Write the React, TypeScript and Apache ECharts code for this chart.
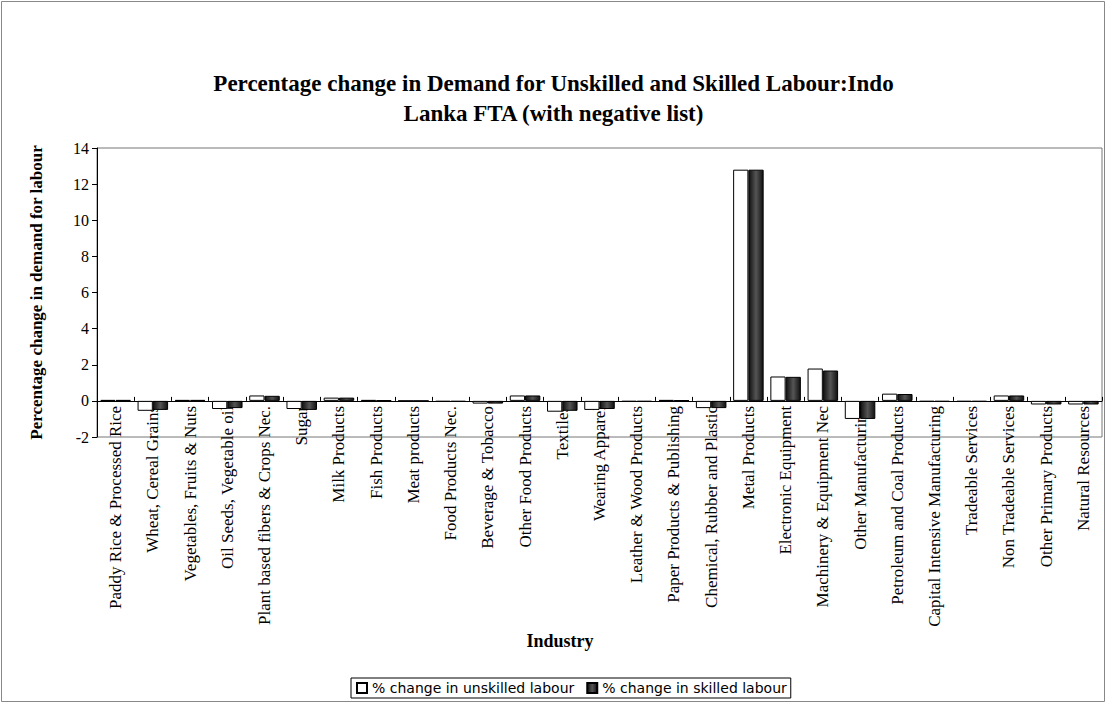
import React, { useEffect, useRef } from "react";
import * as echarts from "echarts";

const titleLines = [
  "Percentage change in Demand for Unskilled and Skilled Labour:Indo",
  "Lanka FTA (with negative list)",
];
const yAxisTitle = "Percentage change in demand for labour";
const xAxisTitle = "Industry";
const seriesNames = ["% change in unskilled labour", "% change in skilled labour"];

const categories = [
  "Paddy Rice & Processed Rice",
  "Wheat, Cereal Grains",
  "Vegetables, Fruits & Nuts",
  "Oil Seeds, Vegetable oil",
  "Plant based fibers & Crops Nec.",
  "Sugar",
  "Milk Products",
  "Fish Products",
  "Meat products",
  "Food Products Nec.",
  "Beverage & Tobacco",
  "Other Food Products",
  "Textiles",
  "Wearing Apparel",
  "Leather & Wood Products",
  "Paper Products & Publishing",
  "Chemical, Rubber and Plastic",
  "Metal Products",
  "Electronic Equipment",
  "Machinery & Equipment Nec",
  "Other Manufacturing",
  "Petroleum and Coal Products",
  "Capital Intensive Manufacturing",
  "Tradeable Services",
  "Non Tradeable Services",
  "Other Primary Products",
  "Natural Resources",
];

const unskilled = [
  0.05, -0.55, 0.05, -0.45, 0.3, -0.45, 0.18, 0.05, 0.0, -0.05, -0.15, 0.3, -0.6,
  -0.5, -0.05, 0.05, -0.4, 12.8, 1.35, 1.79, -1.0, 0.4, -0.05, -0.05, 0.3, -0.2, -0.2,
];
const skilled = [
  0.05, -0.5, 0.05, -0.4, 0.28, -0.5, 0.18, 0.03, 0.0, -0.05, -0.15, 0.3, -0.55,
  -0.45, -0.05, 0.04, -0.4, 12.8, 1.33, 1.68, -1.0, 0.38, -0.05, -0.05, 0.3, -0.2, -0.2,
];

const yMin = -2;
const yMax = 14;
const yInterval = 2;

const SERIF = "'Liberation Serif', 'Times New Roman', serif";
const SANS = "'DejaVu Sans', Verdana, sans-serif";

const GRID_TOP = 148;
const GRID_BOTTOM = 267;
const CHART_H = 704;

export default function App() {
  const ref = useRef<HTMLDivElement>(null);
  useEffect(() => {
    if (!ref.current) return;
    const chart = echarts.init(ref.current, undefined, { renderer: "svg" });
    const plotH = CHART_H - GRID_TOP - GRID_BOTTOM;
    // distance from the plot bottom (yMin) up to the zero line
    const zeroOffset = (plotH * (0 - yMin)) / (yMax - yMin);
    const darkFill = new echarts.graphic.LinearGradient(0, 0, 1, 0, [
      { offset: 0, color: "#111111" },
      { offset: 0.5, color: "#555555" },
      { offset: 1, color: "#111111" },
    ]);
    chart.setOption({
      animation: false,
      backgroundColor: "#ffffff",
      title: {
        text: titleLines.join("\n"),
        left: "center",
        top: 63,
        textStyle: {
          fontFamily: SERIF,
          fontWeight: "bold",
          fontSize: 23,
          lineHeight: 30,
          color: "#000",
        },
      },
      grid: {
        left: 97,
        right: 5,
        top: GRID_TOP,
        bottom: GRID_BOTTOM,
        show: true,
        borderColor: "#777",
        borderWidth: 1,
        backgroundColor: "transparent",
      },
      legend: {
        left: 351,
        top: 678,
        itemWidth: 10,
        itemHeight: 10,
        itemGap: 12,
        padding: [3, 4, 3, 5],
        borderColor: "#000",
        borderWidth: 1,
        icon: "rect",
        textStyle: { fontFamily: SANS, fontSize: 14, color: "#000" },
        data: seriesNames,
      },
      xAxis: {
        type: "category",
        data: categories,
        position: "bottom",
        offset: -zeroOffset,
        axisLine: { onZero: false, lineStyle: { color: "#000", width: 1 } },
        axisTick: { show: true, inside: true, length: 4, lineStyle: { color: "#000" } },
        axisLabel: {
          rotate: 90,
          interval: 0,
          margin: 5,
          fontFamily: SERIF,
          fontSize: 17,
          color: "#000",
        },
        splitLine: { show: false },
        z: 1,
      },
      yAxis: {
        type: "value",
        min: yMin,
        max: yMax,
        interval: yInterval,
        axisLine: { show: true, lineStyle: { color: "#000", width: 1 } },
        axisTick: { show: true, length: 5, lineStyle: { color: "#000" } },
        axisLabel: { fontFamily: SERIF, fontSize: 16, color: "#000", margin: 8 },
        splitLine: { show: false },
        name: yAxisTitle,
        nameLocation: "middle",
        nameGap: 52,
        nameTextStyle: { fontFamily: SERIF, fontWeight: "bold", fontSize: 17, color: "#000" },
      },
      graphic: [
        {
          type: "rect",
          shape: { x: 1.5, y: 1.5, width: 1103, height: 700 },
          style: { fill: "none", stroke: "#888", lineWidth: 1 },
          silent: true,
        },
        {
          type: "text",
          x: 560,
          y: 641,
          style: {
            text: xAxisTitle,
            fontFamily: SERIF,
            fontWeight: "bold",
            fontSize: 18,
            fill: "#000",
            align: "center",
            verticalAlign: "middle",
          },
        },
      ],
      series: [
        {
          name: seriesNames[0],
          type: "bar",
          data: unskilled,
          barGap: "0%",
          barCategoryGap: "18%",
          z: 3,
          itemStyle: { color: "#ffffff", borderColor: "#000", borderWidth: 1 },
        },
        {
          name: seriesNames[1],
          type: "bar",
          data: skilled,
          barGap: "0%",
          barCategoryGap: "18%",
          z: 3,
          itemStyle: { color: darkFill, borderColor: "#000", borderWidth: 1 },
        },
      ],
    });
    return () => chart.dispose();
  }, []);
  return (
    <div
      ref={ref}
      style={{ position: "absolute", left: 0, top: 0, width: 1107, height: 704 }}
    />
  );
}
